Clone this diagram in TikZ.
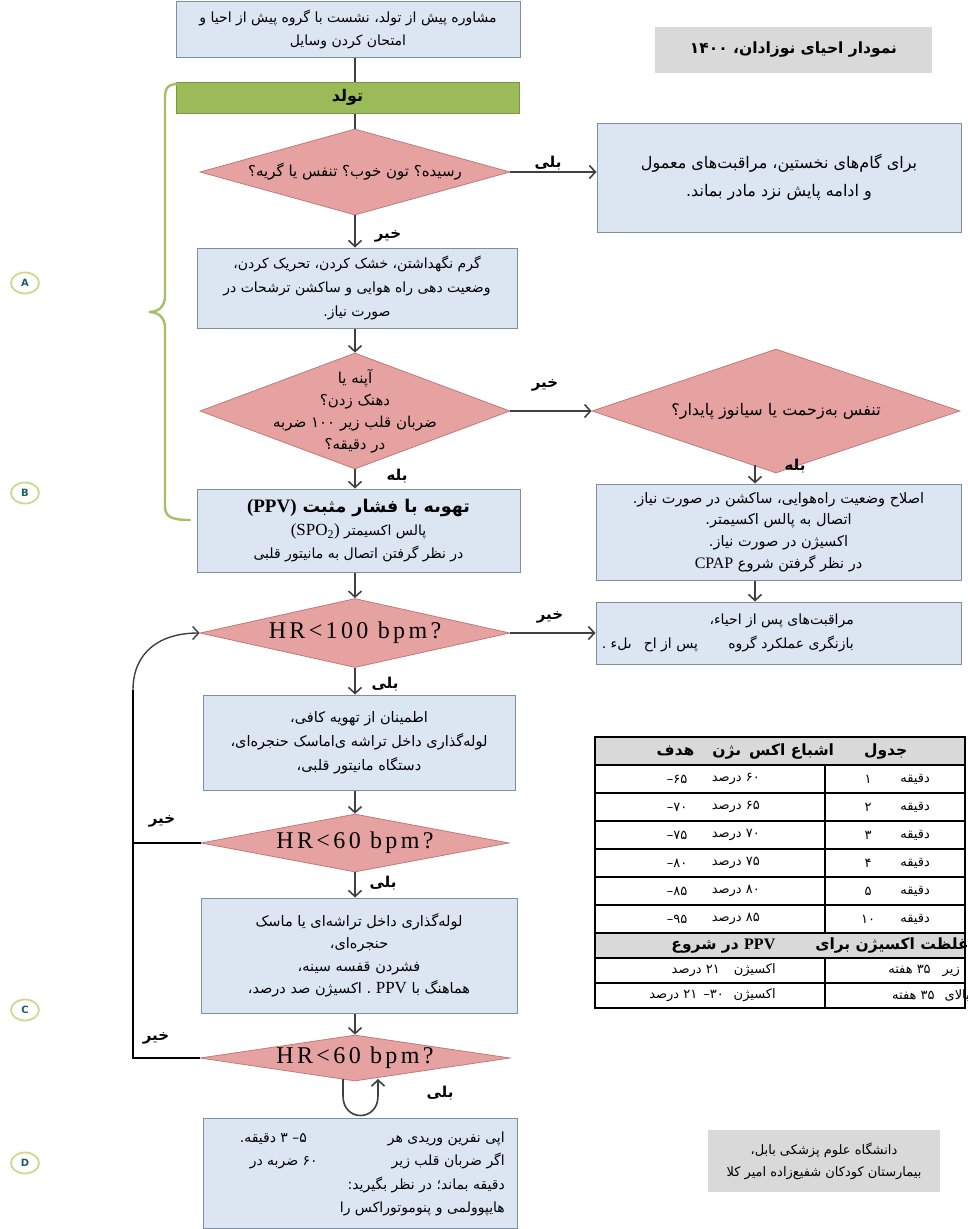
\documentclass[tikz,border=0pt]{standalone}
\usepackage{fontspec}
\setmainfont{DejaVu Sans}[Script=Arabic]
\newfontfamily\lat{Liberation Serif}
\newfontfamily\hrf{Liberation Serif}[LetterSpace=14]
\newfontfamily\latsans{DejaVu Sans}
\usetikzlibrary{shapes.geometric,arrows.meta,calc}
\TeXXeTstate=1
\newcommand\rl[1]{\beginR #1\endR}
\newcommand\lr[1]{\beginL{#1}\endL}
\newcommand\fs[2]{\fontsize{#1}{#2}\selectfont}
\definecolor{boxfill}{HTML}{DCE6F2}
\definecolor{boxdraw}{HTML}{7F8FA3}
\definecolor{diafill}{HTML}{E6A1A1}
\definecolor{diadraw}{HTML}{BF7B7B}
\definecolor{greenfill}{HTML}{9BBB59}
\definecolor{greendraw}{HTML}{7A9440}
\definecolor{graybox}{HTML}{D9D9D9}
\definecolor{conncol}{HTML}{404040}
\definecolor{bracecol}{HTML}{A3C063}
\definecolor{circdraw}{HTML}{CDD890}
\definecolor{circtext}{HTML}{1F5F5B}
\begin{document}
\begin{tikzpicture}[x=1pt,y=-1pt,
  box/.style={draw=boxdraw, fill=boxfill, line width=1pt, inner sep=2pt, align=center, font=\fs{14}{23}},
  dia/.style={diamond, draw=diadraw, fill=diafill, line width=0.8pt, inner sep=0pt},
  dtxt/.style={align=center, font=\fs{15}{22}, inner sep=0pt},
  hrtxt/.style={inner sep=0pt, font=\hrf\fs{24}{26}},
  conn/.style={draw=conncol, line width=1.6pt},
  arr/.style={conn, -{Straight Barb[length=6pt,width=13pt]}},
  lab/.style={font=\bfseries\fs{15}{17}, inner sep=0pt},
  fb/.style={draw=black, line width=2.6pt},
  circ/.style={ellipse, draw=circdraw, line width=1.8pt, minimum width=28pt, minimum height=21pt, inner sep=0pt, font=\latsans\bfseries\fs{10}{12}, text=circtext},
  tcell/.style={inner sep=0pt, font=\fs{13}{15}},
  thead/.style={inner sep=0pt, font=\bfseries\fs{15.5}{17}},
  tline/.style={draw=black, line width=1.2pt}
]
\useasboundingbox (0,0) rectangle (967,1229);

% ---------- top part ----------
\node[box, minimum width=344pt, minimum height=56pt] (top) at (348,29)
  {\rl{مشاوره پیش از تولد، نشست با گروه پیش از احیا و}\\\rl{امتحان کردن وسایل}};
\node[fill=graybox, minimum width=277pt, minimum height=46pt, font=\bfseries\fs{15.5}{18}] (title) at (793.5,50)
  {\rl{نمودار احیای نوزادان، ۱۴۰۰}};
\node[draw=greendraw, fill=greenfill, line width=1pt, minimum width=343pt, minimum height=31pt, font=\bfseries\fs{16}{18}] (birth) at (347.5,97.5)
  {\rl{تولد}};

\node[dia, minimum width=310pt, minimum height=86pt] (d1) at (355,172) {};
\node[dtxt] (d1t) at (d1.center) {\rl{رسیده؟ تون خوب؟ تنفس یا گریه؟}};

\draw[conn, line width=2.2pt] (d1.north |- top.south) -- (d1.north |- birth.north);
\draw[conn, line width=2.2pt] (d1.north |- birth.south) -- (d1.north);

\node[box, minimum width=364pt, minimum height=109pt, font=\fs{16}{28}] (r1) at (779,177.5)
  {\rl{برای گام^^^^200cهای نخستین، مراقبت^^^^200cهای معمول}\\\rl{و ادامه پایش نزد مادر بماند.}};
\draw[arr] (d1.east) -- (d1.east -| r1.west);
\node[lab] (l1) at (548,163) {\rl{بلی}};

\node[box, minimum width=320pt, minimum height=80pt, font=\fs{14}{24}] (b2) at (357,288)
  {\rl{گرم نگهداشتن، خشک کردن، تحریک کردن،}\\\rl{وضعیت دهی راه هوایی و ساکشن ترشحات در}\\\rl{صورت نیاز.}};
\draw[arr] (d1.south) -- (d1.south |- b2.north);
\node[lab] (l2) at (388,236) {\rl{خیر}};

% ---------- second decision ----------
\node[dia, minimum width=310pt, minimum height=116pt] (d2) at (355,411) {};
\node[dtxt] (d2t) at (d2.center)
  {\rl{آپنه یا}\\\rl{دهنک زدن؟}\\\rl{ضربان قلب زیر ۱۰۰ ضربه}\\\rl{در دقیقه؟}};
\draw[arr] (d2.north |- b2.south) -- (d2.north);

\node[dia, minimum width=368pt, minimum height=124pt] (d3) at (776,411) {};
\node[dtxt, font=\fs{16}{22}] (d3t) at (d3.center) {\rl{تنفس به^^^^200cزحمت یا سیانوز پایدار؟}};
\draw[arr] (d2.east) -- (d3.west);
\node[lab] (l3) at (545,385) {\rl{خیر}};

\node[box, minimum width=365pt, minimum height=96pt, font=\fs{14.5}{21.7}] (r2) at (778.5,532)
  {\rl{اصلاح وضعیت راه^^^^200cهوایی، ساکشن در صورت نیاز.}\\\rl{اتصال به پالس اکسیمتر.}\\\rl{اکسیژن در صورت نیاز.}\\\rl{در نظر گرفتن شروع \lr{\lat\fs{16}{18}CPAP}}};
\coordinate (ax) at (755,0);
\draw[arr] ($(ax |- d3.south)+(0,-8)$) -- (ax |- r2.north);
\node[lab] (l4) at (795,466) {\rl{بله}};

\node[box, minimum width=365pt, minimum height=62pt] (r3) at (778.5,633) {};
\node[inner sep=0pt, align=right, anchor=east, font=\fs{14}{24}] (r3t) at (854,633)
  {\rl{مراقبت^^^^200cهای پس از احیاء،}\\\makebox[252pt]{\rl{بازنگری عملکرد گروه\hfill پس از اح\hspace{12pt}ىلء .}}};
\draw[arr] (ax |- r2.south) -- (ax |- r3.north);

\node[box, minimum width=323pt, minimum height=83pt, font=\fs{14}{23}] (ppv) at (358.5,530.5)
  {{\bfseries\fs{17.5}{21}\rl{تهوىه با فشار مثبت \lr{\lat\bfseries\fs{19}{21}(PPV)}}}\\
   \rl{پالس اکسیمتر \lr{\lat\fs{17}{19}(SPO\textsubscript{2})}}\\
   \rl{در نظر گرفتن اتصال به مانیتور قلبی}};
\draw[arr] (d2.south) -- (d2.south |- ppv.north);
\node[lab] (l5) at (397,476) {\rl{بله}};

% ---------- HR<100 ----------
\node[dia, minimum width=310pt, minimum height=69pt] (d4) at (355,633) {};
\node[hrtxt] (d4t) at (d4.center) {HR<100 bpm?};
\draw[arr] (d2.south |- ppv.south) -- (d4.north);
\draw[arr] (d4.east) -- (d4.east -| r3.west);
\node[lab] (l6) at (550,617) {\rl{خیر}};

\node[box, minimum width=312pt, minimum height=95pt, font=\fs{14.5}{24}] (b6) at (359,742.5)
  {\rl{اطمینان از تهویه کافی،}\\\rl{لوله^^^^200cگذاری داخل تراشه ی^^^^200cاماسک حنجره^^^^200cای،}\\\rl{دستگاه مانیتور قلبی،}};
\draw[arr] (d4.south) -- (d4.south |- b6.north);
\node[lab] (l7) at (385,684) {\rl{بلی}};

% ---------- HR<60 (1) ----------
\node[dia, minimum width=308pt, minimum height=58pt] (d5) at (355,843) {};
\node[hrtxt] (d5t) at (d5.center) {HR<60 bpm?};
\draw[arr] (d5.north |- b6.south) -- (d5.north);

\node[box, minimum width=316pt, minimum height=115pt, font=\fs{14.5}{22.5}] (b7) at (359,955.5)
  {\rl{لوله^^^^200cگذاری داخل تراشه^^^^200cای یا ماسک}\\\rl{حنجره^^^^200cای،}\\\rl{فشردن قفسه سینه،}\\\rl{هماهنگ با \lr{\lat\fs{17}{19}PPV} . اکسیژن صد درصد،}};
\draw[arr] (d5.south) -- (d5.south |- b7.north);
\node[lab] (l8) at (383,883) {\rl{بلی}};

% ---------- HR<60 (2) ----------
\node[dia, minimum width=310pt, minimum height=46pt] (d6) at (355,1058) {};
\node[hrtxt] (d6t) at (d6.center) {HR<60 bpm?};
\draw[arr] (d6.north |- b7.south) -- (d6.north);

\node[box, minimum width=314pt, minimum height=110pt] (b8) at (360,1173) {};
\node[inner sep=0pt, anchor=east, align=right, font=\fs{14}{23.5}] (b8t) at (505,1174)
  {\makebox[265pt]{\rl{اپی نفرین وریدی هر\hfill ۵– ۳ دقیقه.}}\\
   \makebox[265pt][r]{\makebox[255pt]{\rl{اگر ضربان قلب زیر\hfill ۶۰ ضربه در}}}\\
   \makebox[265pt][r]{\rl{دقیقه بماند؛ در نظر بگیرید:}}\\
   \makebox[265pt][r]{\rl{هایپوولمی و پنوموتوراکس را}}};

\coordinate (lpA) at (343,1079);
\coordinate (lpB) at (378,1079);
\draw[arr] (lpA) -- (343,1096) .. controls (343,1122) and (378,1122) .. (378,1096) -- (lpB);
\node[lab] (l9) at (440,1093) {\rl{بلی}};

% ---------- feedback loop ----------
\coordinate (fb1) at (133,843);
\coordinate (fb2) at (133,1058);
\coordinate (fbtop) at (133,690);
\draw[fb] (d5.west) -- (fb1);
\draw[fb] (d6.west) -- (fb2) -- (fbtop);
\draw[arr, line width=1.4pt] (fbtop) .. controls (133,652) and (160,633) .. (d4.west);
\node[lab] (l10) at (162,821) {\rl{خیر}};
\node[lab] (l11) at (156,1038) {\rl{خیر}};

% ---------- brace and circles ----------
\draw[bracecol, line width=2.4pt, line cap=round]
  (178,84) .. controls (168,84) and (165,88) .. (165,98) -- (165,296)
  .. controls (165,307) and (158,312) .. (149,312)
  .. controls (158,312) and (165,317) .. (165,328) -- (165,506)
  .. controls (165,516) and (170,520) .. (190,520);
\node[circ] (cA) at (25,283) {A};
\node[circ] (cB) at (25,493) {B};
\node[circ] (cC) at (25,1010) {C};
\node[circ] (cD) at (25,1163) {D};

% ---------- table ----------
\fill[graybox] (595,737) rectangle (965,765);
\fill[graybox] (595,933) rectangle (965,958);
\draw[tline] (595,737) rectangle (965,1008);
\foreach \yy in {765,793,821,849,877,905,933,958,983} \draw[tline] (595,\yy) -- (965,\yy);
\draw[tline] (825,765) -- (825,933);
\draw[tline] (825,958) -- (825,1008);
\node[thead] (th1) at (782,751) {\rl{جدول\hspace{30pt}اشباع اکس\hspace{8pt}ىژن\hspace{18pt}هدف}};
\foreach \k/\n/\hi/\lo in {0/۱/۶۵/۶۰, 1/۲/۷۰/۶۵, 2/۳/۷۵/۷۰, 3/۴/۸۰/۷۵, 4/۵/۸۵/۸۰, 5/۱۰/۹۵/۸۵}{
  \node[tcell, anchor=east] (tm\k) at (930,779+28*\k) {دقیقه};
  \node[tcell] (tn\k) at (868,779+28*\k) {\n};
  \node[tcell] (th\k) at (677,779+28*\k) {\mbox{–}\mbox{\hi}};
  \node[tcell, anchor=east] (tl\k) at (760,779+28*\k) {\rl{\lo{} درصد}};
}
\node[thead, anchor=east] (th2) at (969,945.5)
  {\rl{غلظت اکسیژن برای\hspace{40pt}\lr{\lat\bfseries\fs{16}{18}PPV} در شروع}};
\node[tcell, anchor=east] (r7a) at (960,970.5) {\rl{زیر\hspace{12pt}۳۵ هفته}};
\node[tcell, anchor=east] (r7b) at (776,970.5) {\rl{اکسیژن\hspace{14pt}۲۱ درصد}};
\node[tcell, anchor=east] (r8a) at (970,995.5) {\rl{بالای\hspace{10pt}۳۵ هفته}};
\node[tcell, anchor=east] (r8b) at (776,995.5) {\rl{اکسیژن\hspace{10pt}۳۰–\hspace{6pt}۲۱ درصد}};

% ---------- credits ----------
\node[fill=graybox, minimum width=232pt, minimum height=62pt, align=center, font=\fs{13}{22}] (cred) at (824,1161)
  {\rl{دانشگاه علوم پزشکی بابل،}\\\rl{بیمارستان کودکان شفیع^^^^200cزاده امیر کلا}};
\end{tikzpicture}
\end{document}
